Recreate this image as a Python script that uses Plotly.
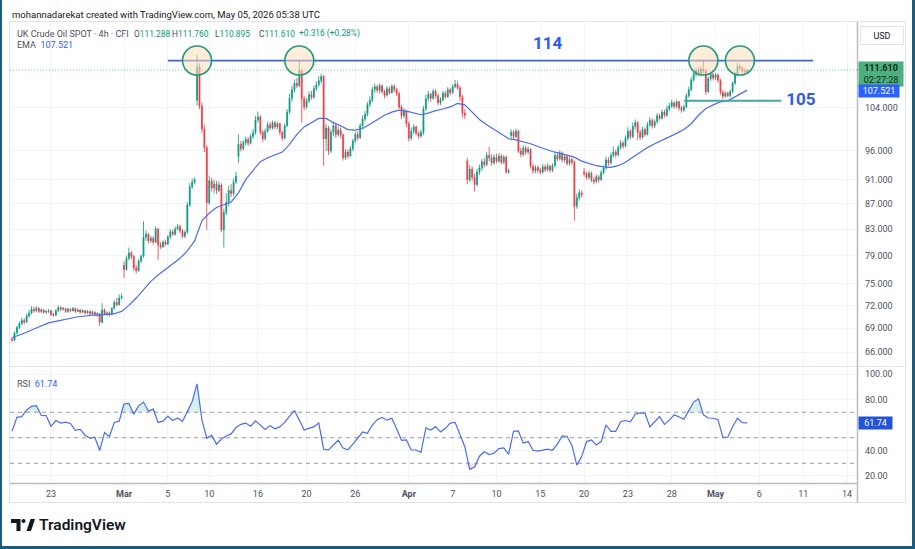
import numpy as np
import pandas as pd
import plotly.graph_objects as go

# ---------------- data (UK Crude Oil SPOT, 4h, CFI) ----------------
open_ = [
    67.6, 67.5, 68.4, 69.1,                       # Feb 18
    69.6, 70.0, 69.8, 70.6, 71.0, 71.5,           # Feb 19
    71.3, 71.6, 71.2, 71.4, 71.1, 71.2,           # Feb 20
    71.3, 70.8, 70.7, 71.3, 71.7, 71.5,           # Feb 23
    71.6, 71.2, 71.5, 71.3, 71.6, 71.2,           # Feb 24
    71.4, 71.1, 71.3, 71.0, 71.2, 70.9,           # Feb 25
    71.1, 70.8, 70.9, 69.8, 71.4, 70.9,           # Feb 26
    71.0, 70.8, 71.6, 72.4, 72.1, 73.0,           # Feb 27
    77.6, 77.0, 78.6, 79.4, 78.9, 77.2,           # Mar 2
    76.8, 78.2, 78.9, 81.8, 82.2, 81.2,           # Mar 3
    81.6, 81.0, 83.0, 80.6, 80.3, 81.0,           # Mar 4
    80.7, 81.8, 82.6, 82.2, 83.0, 83.4,           # Mar 5
    82.7, 81.9, 82.5, 86.8, 89.8, 90.6,           # Mar 6
    105.5, 112.3, 104.4, 100.0, 96.6,             # Mar 9
    87.2, 90.8, 89.6, 90.3, 89.2,                 # Mar 10
    90.1, 82.9, 85.6, 87.2, 89.2,                 # Mar 11
    88.7, 90.6, 95.0, 97.2, 96.4,                 # Mar 12
    97.5, 98.1, 97.4, 98.6, 99.3,                 # Mar 13
    101.7, 102.3, 99.4, 98.2, 99.6,               # Mar 16
    100.8, 100.2, 101.2, 100.4, 101.0,            # Mar 17
    99.4, 98.3, 100.6, 103.2, 105.9,              # Mar 18
    107.6, 108.9, 108.4, 111.5, 105.8,            # Mar 19
    104.2, 105.4, 106.6, 106.1, 107.8,            # Mar 20
    108.6, 109.4, 110.3, 98.2, 100.2,             # Mar 23
    96.0, 99.4, 100.6, 99.0, 99.8,                # Mar 24
    98.9, 94.8, 95.8, 95.1, 96.4,                 # Mar 25
    97.8, 99.0, 98.4, 100.6, 101.9,               # Mar 26
    102.8, 104.7, 105.5, 107.6, 108.2,            # Mar 27
    107.5, 108.4, 107.2, 106.5, 107.8, 107.0,     # Mar 30
    108.3, 107.6, 106.8, 104.2, 102.5, 103.4,     # Mar 31
    101.0, 98.3, 99.6, 100.4, 99.2, 98.7,         # Apr 1
    99.4, 103.8, 105.8, 106.7, 105.9, 107.3,      # Apr 2
    106.4, 105.0, 105.6, 106.9, 106.2, 107.6,     # Apr 6
    107.0, 108.2, 108.7, 108.0, 106.2, 103.0,     # Apr 7
    94.2, 91.0, 92.8, 91.4, 90.2, 92.3,           # Apr 8
    93.0, 94.1, 93.6, 95.2, 94.8, 93.9,           # Apr 9
    94.9, 94.2, 95.1, 94.0, 94.9, 92.3,           # Apr 10
    98.8, 99.4, 98.6, 99.6, 96.0, 95.4,           # Apr 13
    96.5, 95.8, 96.3, 93.3, 92.5, 93.1,           # Apr 14
    92.6, 92.3, 93.2, 92.7, 93.3, 92.6,           # Apr 15
    93.4, 95.2, 94.6, 95.6, 94.4, 95.0,           # Apr 16
    93.8, 94.5, 94.0, 86.6, 88.0, 88.8,           # Apr 17
    92.3, 92.0, 91.4, 92.1, 91.0, 90.7,           # Apr 20
    91.5, 91.0, 92.2, 93.0, 94.4, 93.9,           # Apr 21
    95.2, 95.8, 95.3, 96.6, 97.4, 96.9,           # Apr 22
    98.3, 99.6, 98.6, 100.5, 101.2, 99.4,         # Apr 23
    98.5, 99.9, 99.0, 100.8, 101.6, 100.6,        # Apr 24
    101.4, 102.5, 102.0, 103.2, 102.6, 103.8,     # Apr 27
    104.4, 105.0, 104.3, 105.2, 104.0, 103.6,     # Apr 28
    104.2, 106.4, 107.6, 109.6, 110.8, 111.6,     # Apr 29
    110.9, 111.8, 111.4, 107.2, 109.8, 110.7,     # Apr 30
    110.0, 110.6, 109.5, 107.1, 106.3, 106.9,     # May 1
    106.4, 107.2, 108.9, 110.8, 112.4, 112.0,     # May 4
    111.4, 111.288,                               # May 5
]
high = [
    67.9, 68.6, 69.3, 69.9,
    70.4, 70.3, 70.9, 71.4, 71.9, 71.8,
    71.9, 71.8, 71.6, 71.5, 71.4, 71.5,
    71.4, 71.0, 71.5, 72.0, 71.9, 71.8,
    71.7, 71.7, 71.6, 71.8, 71.7, 71.6,
    71.5, 71.5, 71.4, 71.4, 71.3, 71.3,
    71.2, 71.1, 71.0, 72.3, 71.6, 71.2,
    71.2, 71.8, 72.7, 73.0, 73.5, 73.6,
    78.2, 79.0, 80.2, 79.7, 79.1, 77.6,
    78.5, 79.2, 84.2, 82.8, 82.4, 82.0,
    81.9, 83.4, 83.2, 81.0, 81.3, 81.4,
    82.1, 83.0, 82.9, 83.4, 83.8, 83.7,
    83.0, 82.8, 87.3, 90.4, 91.2, 91.4,
    114.8, 113.0, 105.0, 100.8, 97.0,
    91.7, 91.3, 91.0, 90.8, 90.7,
    90.4, 86.2, 88.7, 90.0, 90.3,
    91.2, 92.3, 99.0, 97.8, 98.0,
    98.6, 98.5, 99.1, 100.0, 102.5,
    103.3, 102.6, 99.8, 100.1, 101.4,
    101.3, 101.6, 101.5, 101.4, 101.2,
    99.7, 101.0, 103.8, 106.8, 108.4,
    109.7, 110.0, 113.8, 111.8, 106.4,
    106.0, 107.3, 107.4, 108.4, 109.3,
    110.3, 110.9, 110.6, 101.0, 100.6,
    100.0, 101.3, 101.0, 100.5, 100.3,
    99.2, 96.4, 96.3, 96.9, 98.2,
    99.5, 99.6, 101.1, 102.6, 103.4,
    105.2, 106.3, 108.2, 108.8, 108.6,
    108.9, 108.7, 107.6, 108.3, 108.2, 108.7,
    108.7, 108.0, 107.2, 104.6, 104.0, 103.7,
    101.4, 100.3, 100.9, 100.6, 99.6, 99.9,
    104.4, 106.6, 107.4, 107.0, 107.8, 107.7,
    106.8, 106.1, 107.4, 107.3, 108.1, 108.0,
    108.7, 109.6, 109.3, 108.4, 106.5, 103.8,
    94.8, 93.5, 93.3, 92.0, 92.8, 93.6,
    94.6, 94.8, 95.8, 96.7, 95.4, 95.4,
    95.5, 95.6, 95.4, 95.3, 95.2, 92.9,
    100.0, 99.8, 100.1, 99.9, 96.6, 97.0,
    96.9, 96.8, 96.5, 93.7, 93.5, 93.4,
    93.0, 93.7, 93.6, 93.8, 93.6, 93.8,
    95.8, 95.7, 96.1, 95.9, 95.4, 95.3,
    95.0, 94.8, 94.3, 88.6, 89.4, 89.2,
    93.0, 92.4, 92.6, 92.4, 91.4, 91.9,
    91.8, 92.6, 93.5, 95.0, 94.9, 95.7,
    96.8, 96.2, 97.1, 98.0, 97.8, 98.8,
    100.3, 100.0, 101.2, 101.8, 101.5, 99.8,
    100.4, 100.3, 101.3, 102.2, 102.0, 101.8,
    103.0, 102.9, 103.7, 103.7, 104.4, 105.0,
    105.6, 105.3, 105.7, 105.4, 104.4, 104.6,
    106.9, 108.2, 110.2, 111.4, 112.1, 112.2,
    112.3, 113.8, 111.7, 110.3, 111.3, 111.0,
    111.0, 110.9, 109.8, 107.5, 107.3, 107.2,
    107.6, 109.3, 111.3, 113.1, 112.8, 112.3,
    111.9, 111.760,
]
low = [
    67.3, 67.4, 68.2, 68.9,
    69.4, 69.5, 69.7, 70.4, 70.8, 71.0,
    71.1, 71.0, 71.0, 70.9, 70.9, 71.0,
    70.6, 70.5, 70.6, 71.1, 71.2, 71.3,
    71.0, 71.0, 71.1, 71.2, 71.0, 71.1,
    70.9, 71.0, 70.8, 70.9, 70.7, 70.8,
    70.6, 70.5, 69.3, 69.6, 70.7, 70.6,
    70.5, 70.7, 71.5, 71.9, 72.0, 72.8,
    75.8, 76.8, 78.3, 78.5, 76.8, 76.4,
    76.7, 77.9, 78.7, 81.2, 80.8, 80.9,
    80.6, 80.9, 78.4, 80.0, 80.1, 80.4,
    80.6, 81.5, 81.9, 82.0, 82.8, 82.4,
    81.6, 81.6, 82.3, 86.5, 89.4, 90.2,
    104.5, 103.8, 99.3, 95.8, 82.9,
    86.8, 89.0, 88.7, 88.6, 88.9,
    82.5, 80.2, 85.2, 86.6, 88.1,
    88.3, 90.3, 93.9, 95.9, 96.1,
    97.0, 96.9, 97.2, 98.2, 99.0,
    101.2, 98.9, 97.6, 97.9, 99.3,
    99.8, 99.9, 99.9, 100.0, 98.9,
    97.8, 98.1, 100.4, 102.9, 105.2,
    107.0, 107.9, 108.1, 101.2, 103.5,
    103.8, 105.0, 105.6, 105.8, 107.4,
    108.2, 108.9, 93.4, 96.0, 95.3,
    95.6, 98.7, 98.4, 98.6, 98.3,
    94.3, 94.4, 94.6, 94.9, 96.0,
    97.4, 97.9, 98.2, 100.2, 101.4,
    102.4, 104.2, 105.1, 107.0, 107.0,
    106.9, 106.8, 105.9, 106.2, 106.6, 106.8,
    107.1, 106.3, 103.8, 101.9, 102.1, 100.4,
    97.7, 97.9, 99.1, 98.8, 98.2, 98.4,
    98.9, 103.4, 105.3, 105.2, 105.6, 105.9,
    104.5, 104.6, 105.3, 105.8, 106.0, 106.5,
    106.8, 107.9, 107.6, 105.4, 102.1, 101.9,
    90.2, 90.6, 90.8, 89.0, 89.9, 91.8,
    92.5, 93.1, 93.3, 94.2, 93.4, 93.6,
    93.8, 93.9, 93.6, 93.7, 92.0, 92.0,
    98.0, 98.1, 98.3, 95.6, 94.9, 95.0,
    95.3, 95.4, 92.9, 92.0, 92.1, 92.1,
    91.9, 92.0, 92.3, 92.4, 92.2, 92.3,
    93.1, 94.2, 94.3, 94.0, 93.9, 93.4,
    93.4, 93.5, 84.3, 86.2, 87.5, 88.0,
    91.5, 91.0, 91.0, 90.6, 90.2, 90.4,
    90.5, 90.8, 91.9, 92.7, 93.4, 93.6,
    94.9, 94.8, 95.0, 96.2, 96.4, 96.6,
    97.9, 98.1, 98.3, 100.0, 98.0, 98.0,
    98.2, 98.6, 98.8, 100.4, 100.1, 100.2,
    101.0, 101.6, 101.8, 102.2, 102.3, 103.4,
    104.0, 103.9, 103.9, 103.5, 103.1, 103.2,
    104.0, 106.0, 107.3, 109.2, 110.2, 110.4,
    110.5, 110.9, 106.5, 106.9, 109.4, 109.5,
    109.5, 109.0, 106.6, 105.7, 106.0, 106.1,
    106.1, 106.9, 108.6, 110.5, 111.6, 111.0,
    110.9, 110.895,
]
close = [
    67.5, 68.4, 69.1, 69.6,
    70.0, 69.8, 70.6, 71.0, 71.5, 71.3,
    71.6, 71.2, 71.4, 71.1, 71.2, 71.3,
    70.8, 70.7, 71.3, 71.7, 71.5, 71.6,
    71.2, 71.5, 71.3, 71.6, 71.2, 71.4,
    71.1, 71.3, 71.0, 71.2, 70.9, 71.1,
    70.8, 70.9, 69.8, 71.4, 70.9, 71.0,
    70.8, 71.6, 72.4, 72.1, 73.0, 73.2,
    77.0, 78.6, 79.4, 78.9, 77.2, 76.8,
    78.2, 78.9, 81.8, 82.2, 81.2, 81.6,
    81.0, 83.0, 80.6, 80.3, 81.0, 80.7,
    81.8, 82.6, 82.2, 83.0, 83.4, 82.7,
    81.9, 82.5, 86.8, 89.8, 90.6, 91.0,
    112.3, 104.4, 100.0, 96.6, 87.2,
    90.8, 89.6, 90.3, 89.2, 90.1,
    82.9, 85.6, 87.2, 89.2, 88.7,
    90.6, 91.6, 97.2, 96.4, 97.5,
    98.1, 97.4, 98.6, 99.3, 101.7,
    102.3, 99.4, 98.2, 99.6, 100.8,
    100.2, 101.2, 100.4, 101.0, 99.4,
    98.3, 100.6, 103.2, 105.9, 107.6,
    108.9, 108.4, 111.5, 105.8, 104.2,
    105.4, 106.6, 106.1, 107.8, 108.6,
    109.4, 110.3, 98.2, 100.2, 96.0,
    99.4, 100.6, 99.0, 99.8, 98.9,
    94.8, 95.8, 95.1, 96.4, 97.8,
    99.0, 98.4, 100.6, 101.9, 102.8,
    104.7, 105.5, 107.6, 108.2, 107.5,
    108.4, 107.2, 106.5, 107.8, 107.0, 108.3,
    107.6, 106.8, 104.2, 102.5, 103.4, 101.0,
    98.3, 99.6, 100.4, 99.2, 98.7, 99.4,
    103.8, 105.8, 106.7, 105.9, 107.3, 106.4,
    105.0, 105.6, 106.9, 106.2, 107.6, 107.0,
    108.2, 108.7, 108.0, 106.2, 103.0, 102.6,
    91.0, 92.8, 91.4, 90.2, 92.3, 93.0,
    94.1, 93.6, 95.2, 94.8, 93.9, 94.9,
    94.2, 95.1, 94.0, 94.9, 92.3, 92.5,
    99.4, 98.6, 99.6, 96.0, 95.4, 96.5,
    95.8, 96.3, 93.3, 92.5, 93.1, 92.6,
    92.3, 93.2, 92.7, 93.3, 92.6, 93.4,
    95.2, 94.6, 95.6, 94.4, 95.0, 93.8,
    94.5, 94.0, 86.6, 88.0, 88.8, 88.5,
    92.0, 91.4, 92.1, 91.0, 90.7, 91.5,
    91.0, 92.2, 93.0, 94.4, 93.9, 95.2,
    95.8, 95.3, 96.6, 97.4, 96.9, 98.3,
    99.6, 98.6, 100.5, 101.2, 99.4, 98.5,
    99.9, 99.0, 100.8, 101.6, 100.6, 101.4,
    102.5, 102.0, 103.2, 102.6, 103.8, 104.4,
    105.0, 104.3, 105.2, 104.0, 103.6, 104.2,
    106.4, 107.6, 109.6, 110.8, 111.6, 110.9,
    111.8, 111.4, 107.2, 109.8, 110.7, 110.0,
    110.6, 109.5, 107.1, 106.3, 106.9, 106.4,
    107.2, 108.9, 110.8, 112.4, 112.0, 111.4,
    111.294, 111.610,
]

# EMA read every 3rd bar (plus the last bar)
ema_values = [
    67.8, 68.1, 68.5, 68.9, 69.3, 69.7, 69.9, 70.1, 70.3, 70.5,
    70.6, 70.7, 70.7, 70.8, 70.9, 71.2, 72.0, 73.0, 74.1, 75.3,
    76.2, 77.0, 77.8, 78.6, 79.7, 81.2, 84.3, 85.5, 86.4, 86.8,
    87.3, 88.8, 91.0, 92.6, 94.1, 94.8, 95.3, 95.8, 97.2, 99.0,
    100.4, 101.2, 102.0, 102.0, 101.2, 100.6, 99.9, 99.8, 100.1, 100.9,
    101.8, 102.6, 103.2, 103.6, 103.4, 103.0, 102.7, 103.0, 103.5, 103.8,
    104.2, 104.9, 104.6, 103.2, 101.8, 100.8, 99.9, 99.0, 98.2, 98.0,
    97.7, 97.3, 96.8, 96.3, 95.9, 95.6, 95.3, 94.9, 94.2, 93.8,
    93.4, 93.2, 93.1, 93.4, 94.0, 94.9, 95.8, 96.6, 97.3, 97.9,
    98.5, 99.2, 99.9, 101.0, 102.6, 103.9, 104.6, 105.2, 105.4, 106.2,
    107.1, 107.521,
]
ema_step = 3

# RSI read every 2nd bar (plus the last bar)
rsi_values = [
    55, 66, 66.5, 71.8, 74.6, 75.2, 67.5, 67.4, 59, 63.5,
    61.5, 62.3, 61.2, 55.8, 56.5, 52, 49.8, 50.4, 40, 54,
    51, 62, 63, 76.5, 77, 68.5, 75, 78, 71, 72.5,
    62, 63, 67, 63.5, 65.5, 62.8, 70.5, 78.5, 92.2, 64,
    49.6, 52, 45, 49, 51.4, 53, 58, 60.5, 61.5, 59,
    63.2, 60, 56.5, 59.5, 57, 58.5, 62, 67, 71.3, 64,
    56, 57.3, 58.7, 61.5, 41, 40.5, 44, 48, 42, 40.5,
    45, 50, 54.5, 53.5, 60, 64.2, 66, 63.8, 65.3, 57,
    48, 48.3, 40.4, 40.4, 38.6, 57.8, 56, 58.7, 54.5, 57.4,
    61.5, 62.1, 52, 43, 25.2, 27, 35.5, 39, 36.8, 37.8,
    41.5, 42, 37, 55, 55.3, 45.8, 47, 40.2, 39.5, 40,
    41, 40.2, 45, 51.5, 51, 44, 28.5, 35.2, 47, 48.3,
    44.3, 47, 60, 55, 55, 62.6, 63.5, 62.5, 68.5, 69.5,
    69.2, 58.5, 62.6, 66.6, 60.5, 63.8, 68, 66, 64.5, 71.3,
    78, 80.5, 68, 65.5, 65.3, 64.2, 50.5, 50.4, 58.7, 65.3,
    61.8, 61.74,
]
rsi_step = 2

# session calendar (4h bars per trading day)
calendar_start, calendar_end = "2026-02-18", "2026-05-22"
closed_days = ["2026-04-03"]
first_day_bars = 4
short_session = ("2026-03-09", "2026-03-27")  # 5 bars per day
normal_bars = 6
short_bars = 5

tick_dates = ["2026-02-23", "2026-03-02", "2026-03-05", "2026-03-10", "2026-03-16",
              "2026-03-20", "2026-03-26", "2026-04-01", "2026-04-07", "2026-04-10",
              "2026-04-15", "2026-04-20", "2026-04-23", "2026-04-28", "2026-05-01",
              "2026-05-06", "2026-05-11", "2026-05-14"]
tick_labels = ["23", "<b>Mar</b>", "5", "10", "16", "20", "26", "<b>Apr</b>", "7", "10",
               "15", "20", "23", "28", "<b>May</b>", "6", "11", "14"]

price_ticks = [66, 69, 72, 75, 79, 83, 87, 91, 96, 104]
rsi_ticks = [20, 40, 80, 100]
rsi_levels = [70, 50, 30]

resistance_level = 113.6
resistance_text = "114"
resistance_span = (64, 329)
support_level = 105.4
support_text = "105"
support_span = (276, 316)
touch_bars = [76, 118, 284, 299]
resistance_label_pos = (220, 116.9)
support_label_pos = (318, 105.4)

header_text = "mohannadarekat created with TradingView.com, May 05, 2026 05:38 UTC"
symbol_text = "UK Crude Oil SPOT · 4h · CFI"
countdown_text = "02:27:28"
currency_text = "USD"

# ---------------- derived ----------------
n = len(close)
bars = np.arange(n)
days = [d.strftime("%Y-%m-%d") for d in pd.bdate_range(calendar_start, calendar_end)
        if d.strftime("%Y-%m-%d") not in closed_days]
bars_per_day = []
for i, d in enumerate(days):
    if i == 0:
        bars_per_day.append(first_day_bars)
    elif short_session[0] <= d <= short_session[1]:
        bars_per_day.append(short_bars)
    else:
        bars_per_day.append(normal_bars)
day_first_bar = dict(zip(days, np.concatenate([[0], np.cumsum(bars_per_day)[:-1]])))
tick_pos = [int(day_first_bar[d]) for d in tick_dates]

ema_x = list(range(0, n - 1, ema_step)) + [n - 1]
rsi_x = list(range(0, n - 1, rsi_step)) + [n - 1]
rsi_arr = np.array(rsi_values, dtype=float)

# ---------------- layout geometry (pixels) ----------------
W, H = 915, 549
L, R, T, B = 10, 857, 22, 483


def px(x):
    return (x - L) / (R - L)


def py(y):
    return (B - y) / (B - T)


x_range = [-0.84, 347.1]
price_range = [np.log10(64.32), np.log10(122.06)]
rsi_range = [14.5, 105.5]

UP, DOWN = "#089981", "#f23645"
BLUE = "#2962ff"
GRID = "#f0f3fa"
TXT = "#4c525e"
FONT = "Roboto"

fig = go.Figure()

# price pane
fig.add_trace(go.Candlestick(
    x=bars, open=open_, high=high, low=low, close=close,
    increasing=dict(line=dict(color=UP, width=0.8), fillcolor=UP),
    decreasing=dict(line=dict(color=DOWN, width=0.8), fillcolor=DOWN),
    whiskerwidth=0, hoverinfo="skip", showlegend=False, xaxis="x", yaxis="y"))

fig.add_trace(go.Scatter(x=ema_x, y=ema_values, mode="lines",
                         line=dict(color="#4a6cf0", width=1.2),
                         hoverinfo="skip", showlegend=False, xaxis="x", yaxis="y"))

fig.add_trace(go.Scatter(x=x_range, y=[close[-1]] * 2, mode="lines",
                         line=dict(color="rgba(8,153,129,0.55)", width=1, dash="1px,2px"),
                         hoverinfo="skip", showlegend=False, xaxis="x", yaxis="y"))

fig.add_trace(go.Scatter(x=list(resistance_span), y=[resistance_level] * 2, mode="lines",
                         line=dict(color="#3f63dc", width=1.8),
                         hoverinfo="skip", showlegend=False, xaxis="x", yaxis="y"))
fig.add_trace(go.Scatter(x=list(support_span), y=[support_level] * 2, mode="lines",
                         line=dict(color="#44a7a2", width=2),
                         hoverinfo="skip", showlegend=False, xaxis="x", yaxis="y"))

fig.add_trace(go.Scatter(x=touch_bars, y=[resistance_level] * len(touch_bars), mode="markers",
                         marker=dict(size=29, color="rgba(251,222,186,0.55)",
                                     line=dict(color="#269a7a", width=1.6)),
                         hoverinfo="skip", showlegend=False, xaxis="x", yaxis="y"))

fig.add_trace(go.Scatter(x=[resistance_label_pos[0]], y=[resistance_label_pos[1]], mode="text",
                         text=[f"<b>{resistance_text}</b>"], textposition="middle center",
                         textfont=dict(size=17, color="#2d5de8", family=FONT),
                         hoverinfo="skip", showlegend=False, xaxis="x", yaxis="y"))
fig.add_trace(go.Scatter(x=[support_label_pos[0]], y=[support_label_pos[1]], mode="text",
                         text=[f"<b>{support_text}</b>"], textposition="middle right",
                         textfont=dict(size=17, color="#2d5de8", family=FONT),
                         hoverinfo="skip", showlegend=False, xaxis="x", yaxis="y"))

# RSI pane
for lvl, clip, col in [(70, np.maximum, "rgba(8,153,129,0.15)"), (30, np.minimum, "rgba(242,54,69,0.15)")]:
    fig.add_trace(go.Scatter(x=rsi_x, y=[lvl] * len(rsi_x), mode="lines", line=dict(width=0),
                             hoverinfo="skip", showlegend=False, xaxis="x2", yaxis="y2"))
    fig.add_trace(go.Scatter(x=rsi_x, y=clip(rsi_arr, lvl), mode="lines", line=dict(width=0),
                             fill="tonexty", fillcolor=col,
                             hoverinfo="skip", showlegend=False, xaxis="x2", yaxis="y2"))
for lvl in rsi_levels:
    fig.add_trace(go.Scatter(x=x_range, y=[lvl, lvl], mode="lines",
                             line=dict(color="#9598a1", width=1, dash="4px,4px"),
                             hoverinfo="skip", showlegend=False, xaxis="x2", yaxis="y2"))
fig.add_trace(go.Scatter(x=rsi_x, y=rsi_values, mode="lines",
                         line=dict(color="#4a6cf0", width=1.2),
                         hoverinfo="skip", showlegend=False, xaxis="x2", yaxis="y2"))

axis_common = dict(showline=False, zeroline=False, fixedrange=True, ticks="")
fig.update_layout(
    width=W, height=H, autosize=False,
    margin=dict(l=L, r=W - R, t=T, b=H - B, pad=0),
    paper_bgcolor="white", plot_bgcolor="white",
    hovermode=False, showlegend=False, boxgap=0.45,
    font=dict(family=FONT, size=9, color=TXT),
    xaxis=dict(domain=[0, 1], anchor="y", range=x_range, tickvals=tick_pos,
               showticklabels=False, showgrid=True, gridcolor=GRID,
               rangeslider=dict(visible=False), **axis_common),
    yaxis=dict(domain=[py(366), 1], anchor="x", type="log", range=price_range, side="right",
               tickvals=price_ticks, ticktext=[f"{v:.3f}" for v in price_ticks],
               showgrid=True, gridcolor=GRID, ticklabelstandoff=7,
               tickfont=dict(size=9, color=TXT), **axis_common),
    xaxis2=dict(domain=[0, 1], anchor="y2", range=x_range, tickvals=tick_pos,
                ticktext=tick_labels, showticklabels=True, showgrid=True, gridcolor=GRID,
                tickfont=dict(size=9, color=TXT), ticklabelstandoff=4, **axis_common),
    yaxis2=dict(domain=[0, py(367)], anchor="x2", range=rsi_range, side="right",
                tickvals=rsi_ticks, ticktext=[f"{v:.2f}" for v in rsi_ticks],
                showgrid=True, gridcolor=GRID, ticklabelstandoff=7,
                tickfont=dict(size=9, color=TXT), **axis_common),
)

shapes = [
    # chart box
    dict(type="rect", xref="paper", yref="paper", x0=px(9.5), x1=px(905.5), y0=py(502.5), y1=py(21.5),
         line=dict(color="#e0e3eb", width=1)),
    # pane separator
    dict(type="line", xref="paper", yref="paper", x0=px(10), x1=px(905), y0=py(366.5), y1=py(366.5),
         line=dict(color="#e0e3eb", width=1)),
    # price scale border
    dict(type="line", xref="paper", yref="paper", x0=px(857.5), x1=px(857.5), y0=py(503), y1=py(22),
         line=dict(color="#b8bbc3", width=1.5)),
    # time axis line
    dict(type="line", xref="paper", yref="paper", x0=px(10), x1=px(857.5), y0=py(483.5), y1=py(483.5),
         line=dict(color="#b8bbc3", width=1.5)),
    # image frame
    dict(type="line", xref="paper", yref="paper", x0=px(1), x1=px(1), y0=py(549), y1=py(0),
         line=dict(color="#1b5c7d", width=2)),
    dict(type="line", xref="paper", yref="paper", x0=px(913.5), x1=px(913.5), y0=py(549), y1=py(0),
         line=dict(color="#1b5c7d", width=3)),
    dict(type="line", xref="paper", yref="paper", x0=px(0), x1=px(915), y0=py(547.5), y1=py(547.5),
         line=dict(color="#1b5c7d", width=3)),
    # TradingView logo mark
    dict(type="path", xref="paper", yref="paper",
         path=f"M {px(11)},{py(519)} L {px(20.5)},{py(519)} L {px(20.5)},{py(531)} L {px(16.5)},{py(531)} "
              f"L {px(16.5)},{py(523)} L {px(11)},{py(523)} Z",
         fillcolor="#131722", line=dict(width=0)),
    dict(type="circle", xref="paper", yref="paper", x0=px(21.5), x1=px(25.5), y0=py(523), y1=py(519),
         fillcolor="#131722", line=dict(width=0)),
    dict(type="path", xref="paper", yref="paper",
         path=f"M {px(26.5)},{py(531)} L {px(30.5)},{py(519)} L {px(35)},{py(519)} L {px(31)},{py(531)} Z",
         fillcolor="#131722", line=dict(width=0)),
]
fig.update_layout(shapes=shapes)

chg = close[-1] - close[-2]
chg_pct = chg / close[-2] * 100
G = UP
ann = [
    dict(x=px(10), y=py(14), text=header_text, font=dict(size=9.5, color="#131722")),
    dict(x=px(15), y=py(34), text=symbol_text, font=dict(size=9, color="#4c525e")),
    dict(x=px(132), y=py(34), text=f"O<span style='color:{G}'>{open_[-1]:.3f}</span>", font=dict(size=8.4)),
    dict(x=px(170), y=py(34), text=f"H<span style='color:{G}'>{high[-1]:.3f}</span>", font=dict(size=8.4)),
    dict(x=px(213), y=py(34), text=f"L<span style='color:{G}'>{low[-1]:.3f}</span>", font=dict(size=8.4)),
    dict(x=px(257), y=py(34), text=f"C<span style='color:{G}'>{close[-1]:.3f}</span>", font=dict(size=8.4)),
    dict(x=px(297), y=py(34), text=f"<span style='color:{G}'>{chg:+.3f} ({chg_pct:+.2f}%)</span>", font=dict(size=8.4)),
    dict(x=px(15), y=py(45), text=f"EMA  <span style='color:{BLUE}'>{ema_values[-1]:.3f}</span>"),
    dict(x=px(15), y=py(384), text=f"RSI  <span style='color:{BLUE}'>{rsi_values[-1]:.2f}</span>"),
    dict(x=px(37), y=py(525), text="TradingView", font=dict(size=15.5, color="#131722", family=FONT, weight=600)),
]
annotations = []
for a in ann:
    base = dict(xref="paper", yref="paper", xanchor="left", yanchor="middle", showarrow=False)
    f = dict(size=9, color="#4c525e", family=FONT)
    f.update(a.pop("font", {}))
    base.update(a)
    base["font"] = f
    annotations.append(base)

# price scale labels
annotations += [
    dict(xref="paper", yref="paper", x=px(881.5), y=py(35.5), text=currency_text, showarrow=False,
         xanchor="center", yanchor="middle", width=40, height=15, bgcolor="white",
         bordercolor="#e0e3eb", borderwidth=1, font=dict(size=9, color="#131722", family=FONT)),
    dict(xref="paper", yref="y", x=1, y=np.log10(close[-1]), xanchor="left", yanchor="middle",
         xshift=1, yshift=-4, showarrow=False, text=f"<b>{close[-1]:.3f}</b><br>{countdown_text}",
         width=42, bgcolor="#4caf7d", borderpad=1, align="center",
         font=dict(size=9, color="#0e2a1c", family=FONT)),
    dict(xref="paper", yref="y", x=1, y=np.log10(ema_values[-1]), xanchor="left", yanchor="middle",
         xshift=1, yshift=-1, showarrow=False, text=f"{ema_values[-1]:.3f}",
         width=38, bgcolor=BLUE, borderpad=1, align="center",
         font=dict(size=9, color="white", family=FONT)),
    dict(xref="paper", yref="y2", x=1, y=rsi_values[-1], xanchor="left", yanchor="middle",
         xshift=1, showarrow=False, text=f"{rsi_values[-1]:.2f}",
         width=31, bgcolor="#2453d9", borderpad=1, align="center",
         font=dict(size=9, color="white", family=FONT)),
]
fig.update_layout(annotations=annotations)

fig.write_html("out.html")
